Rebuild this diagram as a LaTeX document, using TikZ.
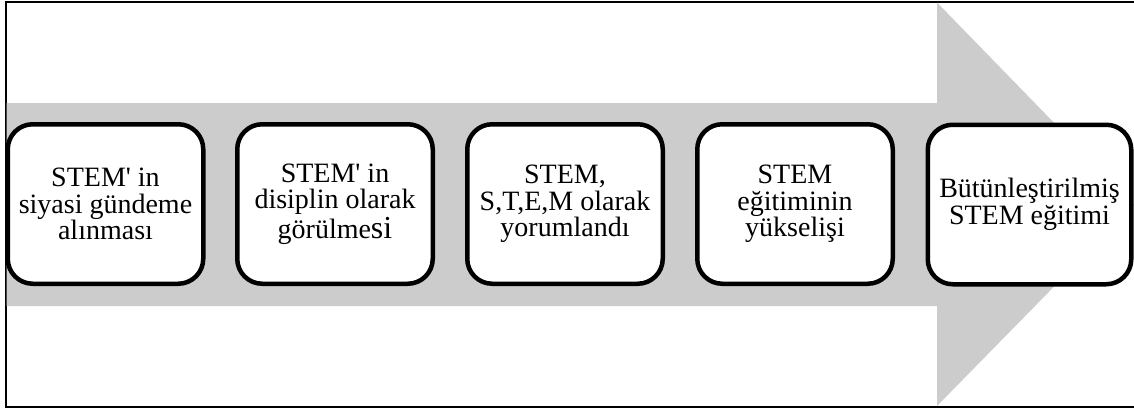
\documentclass[tikz,border=0pt]{standalone}
\usepackage{fontspec}
\setmainfont{Liberation Serif}
\definecolor{bandgray}{RGB}{204,204,204}
\newcommand{\apos}{\textquotesingle}
\begin{document}
\begin{tikzpicture}[x=0.5pt,y=-0.5pt,
  stagebox/.style={draw=black, line width=2.25pt, fill=white,
    rounded corners=12.5pt, minimum width=97.75pt, minimum height=79.75pt,
    inner sep=0pt, align=center,
    font=\fontsize{14pt}{13.3pt}\selectfont},
  frame/.style={draw=black, line width=1pt}]
  \useasboundingbox (0,0) rectangle (1134,412);
  % outer frame (open on the right)
  \draw[frame] (1134,1.5) -- (5.5,1.5) -- (5.5,407) -- (1134,407);
  % broad grey arrow behind the stages
  \fill[bandgray] (6.5,103) -- (937,103) -- (937,2.5) -- (1134,205)
    -- (937,406) -- (937,306) -- (6.5,306) -- cycle;
  % stages
  \node[stagebox] (s1) at (105.5,204) {STEM\apos{} in\\siyasi gündeme\\alınması};
  \node[stagebox] (s2) at (335,204) {STEM\apos{} in\\disiplin olarak\\görülme{\fontsize{16pt}{13.3pt}\selectfont si}};
  \node[stagebox] (s3) at (565,204) {STEM,\\S,T,E,M olarak\\yorumlandı};
  \node[stagebox] (s4) at (795,204) {STEM\\eğitiminin\\yükselişi};
  \node[stagebox, minimum width=101.75pt] (s5) at (1029.5,204.5) {Bütünleştirilmiş\\STEM eğitimi};
\end{tikzpicture}
\end{document}
